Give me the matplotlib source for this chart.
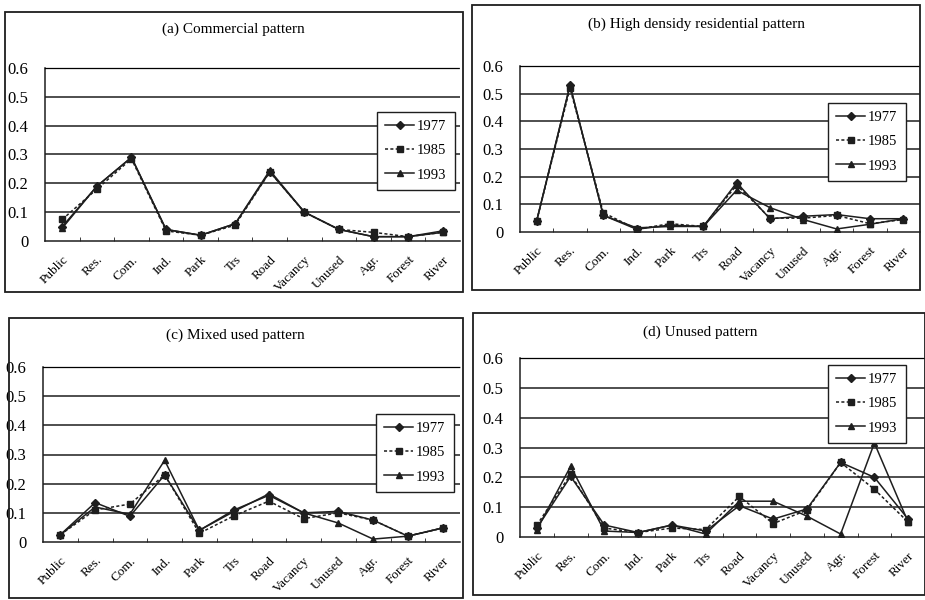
import matplotlib.pyplot as plt
from matplotlib.patches import Rectangle
from matplotlib.ticker import FixedLocator

plt.rcParams['font.family'] = ['Liberation Serif', 'DejaVu Serif']

categories = ['Public', 'Res.', 'Com.', 'Ind.', 'Park', 'Trs', 'Road',
              'Vacancy', 'Unused', 'Agr.', 'Forest', 'River']
years = ['1977', '1985', '1993']

# (a) commercial
com_1977 = [0.05, 0.19, 0.29, 0.04, 0.02, 0.06, 0.24, 0.10, 0.04, 0.015, 0.015, 0.035]
com_1985 = [0.075, 0.18, 0.285, 0.035, 0.02, 0.055, 0.24, 0.10, 0.04, 0.03, 0.015, 0.03]
com_1993 = [0.045, 0.19, 0.29, 0.04, 0.02, 0.06, 0.245, 0.10, 0.04, 0.015, 0.015, 0.03]

# (b) high density residential
res_1977 = [0.04, 0.53, 0.06, 0.01, 0.025, 0.02, 0.178, 0.048, 0.057, 0.063, 0.048, 0.048]
res_1985 = [0.04, 0.52, 0.07, 0.01, 0.03, 0.02, 0.17, 0.05, 0.05, 0.06, 0.03, 0.045]
res_1993 = [0.04, 0.53, 0.06, 0.015, 0.02, 0.02, 0.151, 0.088, 0.045, 0.011, 0.028, 0.048]

# (c) mixed used
mix_1977 = [0.025, 0.135, 0.088, 0.23, 0.04, 0.11, 0.16, 0.10, 0.105, 0.075, 0.02, 0.048]
mix_1985 = [0.025, 0.11, 0.13, 0.23, 0.03, 0.09, 0.14, 0.08, 0.10, 0.075, 0.02, 0.048]
mix_1993 = [0.025, 0.12, 0.095, 0.28, 0.04, 0.105, 0.165, 0.10, 0.065, 0.01, 0.02, 0.048]

# (d) unused
unu_1977 = [0.03, 0.203, 0.04, 0.015, 0.04, 0.02, 0.105, 0.06, 0.094, 0.25, 0.20, 0.06]
unu_1985 = [0.04, 0.21, 0.03, 0.015, 0.03, 0.025, 0.136, 0.045, 0.09, 0.25, 0.16, 0.05]
unu_1993 = [0.025, 0.237, 0.02, 0.015, 0.04, 0.01, 0.12, 0.12, 0.07, 0.01, 0.315, 0.05]

W, H = 925, 600
fig = plt.figure(figsize=(W / 100, H / 100), dpi=100)
fig.patch.set_facecolor('white')

ink = '#1e1e1e'
styles = [dict(marker='D', ms=4, ls='-'),
          dict(marker='s', ms=4, ls=(0, (2, 1.5))),
          dict(marker='^', ms=5, ls='-')]


def px_box(x0, y0, x1, y1):
    # pixel box (top-left origin) -> figure fraction rect
    return [x0 / W, 1 - y1 / H, (x1 - x0) / W, (y1 - y0) / H]


def panel(data, title, box, ax_px, title_xy, leg_xy):
    fig.patches.append(Rectangle((box[0] / W, 1 - box[3] / H),
                                 (box[2] - box[0]) / W, (box[3] - box[1]) / H,
                                 transform=fig.transFigure, fill=False,
                                 ec=ink, lw=1.3))
    ax = fig.add_axes(px_box(*ax_px))
    x = range(len(categories))
    for vals, yr, st in zip(data, years, styles):
        ax.plot(x, vals, color=ink, lw=1.1, mfc=ink, mec=ink, label=yr, **st)
    ax.set_xlim(-0.5, len(categories) - 0.5)
    ax.set_ylim(0, 0.6)
    for g in [0.1, 0.2, 0.3, 0.4, 0.5]:
        ax.axhline(g, color=ink, lw=1.1, zorder=0)
    ax.spines['right'].set_visible(False)
    ax.spines['top'].set_linestyle((0, (1, 1)))
    ax.spines['top'].set_linewidth(0.9)
    for s in ['left', 'bottom']:
        ax.spines[s].set_linewidth(1.1)
        ax.spines[s].set_color(ink)
    ax.set_yticks([0, 0.1, 0.2, 0.3, 0.4, 0.5, 0.6])
    ax.set_yticklabels(['0', '0.1', '0.2', '0.3', '0.4', '0.5', '0.6'], fontsize=12)
    ax.tick_params(axis='y', length=0, pad=12)
    ax.set_xticks(list(x))
    ax.set_xticklabels(categories, rotation=45, ha='right', rotation_mode='anchor',
                       fontsize=9.5)
    ax.tick_params(axis='x', which='major', length=0, pad=9)
    ax.xaxis.set_minor_locator(FixedLocator([i + 0.5 for i in range(len(categories) - 1)]))
    ax.tick_params(axis='x', which='minor', direction='in', length=3, color=ink)
    ax.set_facecolor('none')
    fig.text(title_xy[0] / W, 1 - title_xy[1] / H, title, ha='center', va='center',
             fontsize=11)
    leg = ax.legend(loc='upper left', bbox_to_anchor=(leg_xy[0] / W, 1 - leg_xy[1] / H),
                    bbox_transform=fig.transFigure, frameon=True, fancybox=False,
                    edgecolor=ink, fontsize=10.5, handlelength=2.0,
                    labelspacing=0.75, borderpad=0.55, handletextpad=0.2,
                    borderaxespad=0, framealpha=1)
    leg.get_frame().set_linewidth(1.0)
    return ax


panel([com_1977, com_1985, com_1993], '(a) Commercial pattern',
      (5, 12, 463, 292), (45, 68, 460, 241), (233, 29), (377, 112))
panel([res_1977, res_1985, res_1993], '(b) High densidy residential pattern',
      (472, 5, 920, 290), (520, 66, 920, 232), (697, 24), (828, 103))
panel([mix_1977, mix_1985, mix_1993], '(c) Mixed used pattern',
      (9, 318, 463, 598), (43, 367, 460, 542), (235, 335), (376, 414))
panel([unu_1977, unu_1985, unu_1993], '(d) Unused pattern',
      (473, 313, 925, 595), (520, 358, 925, 537), (700, 332), (828, 365))

fig.savefig('out.png', dpi=100)
